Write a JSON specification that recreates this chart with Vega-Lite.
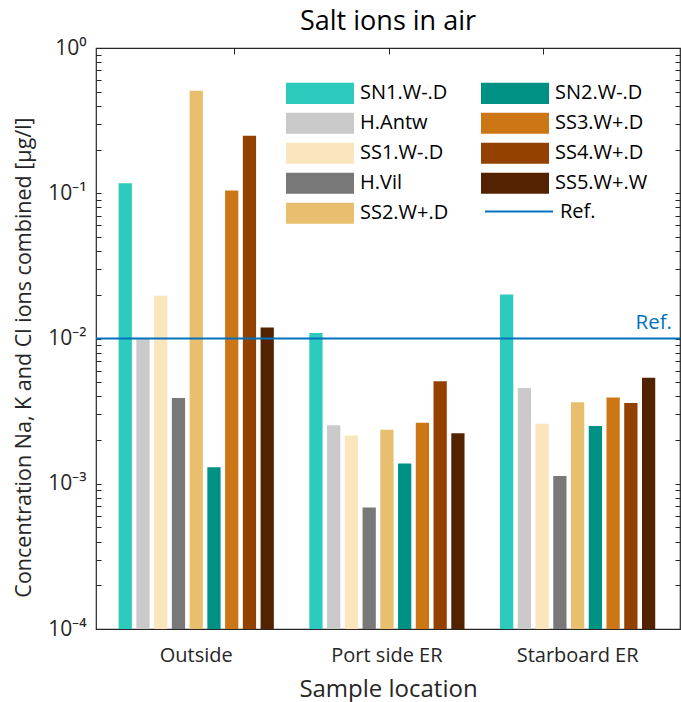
{
  "$schema": "https://vega.github.io/schema/vega-lite/v6.json",
  "width": 584,
  "height": 581,
  "autosize": {"type": "none"},
  "padding": {"left": 96, "top": 48, "right": 1, "bottom": 73},
  "background": "white",
  "title": {
    "text": "Salt ions in air",
    "font": "Open Sans",
    "fontSize": 27,
    "fontWeight": "normal",
    "color": "#000000",
    "anchor": "middle",
    "baseline": "alphabetic",
    "offset": 13,
    "dy": 33
  },
  "config": {
    "font": "Open Sans",
    "view": {"stroke": "#262626", "strokeWidth": 1.2},
    "axis": {
      "domain": false,
      "grid": false,
      "tickColor": "#262626",
      "tickWidth": 1,
      "labelColor": "#262626",
      "titleColor": "#262626",
      "labelFont": "Open Sans",
      "titleFont": "Open Sans",
      "titleFontWeight": "normal"
    },
    "legend": {
      "labelFont": "Open Sans",
      "labelColor": "#000000"
    }
  },
  "datasets": {
    "samples": [
      {"location": "Outside", "sample": "SN1.W-.D", "value": 0.117},
      {"location": "Outside", "sample": "H.Antw", "value": 0.0100},
      {"location": "Outside", "sample": "SS1.W-.D", "value": 0.0197},
      {"location": "Outside", "sample": "H.Vil", "value": 0.0039},
      {"location": "Outside", "sample": "SS2.W+.D", "value": 0.507},
      {"location": "Outside", "sample": "SN2.W-.D", "value": 0.0013},
      {"location": "Outside", "sample": "SS3.W+.D", "value": 0.1045},
      {"location": "Outside", "sample": "SS4.W+.D", "value": 0.249},
      {"location": "Outside", "sample": "SS5.W+.W", "value": 0.0119},
      {"location": "Port side ER", "sample": "SN1.W-.D", "value": 0.0109},
      {"location": "Port side ER", "sample": "H.Antw", "value": 0.00253},
      {"location": "Port side ER", "sample": "SS1.W-.D", "value": 0.00215},
      {"location": "Port side ER", "sample": "H.Vil", "value": 0.000686},
      {"location": "Port side ER", "sample": "SS2.W+.D", "value": 0.00235},
      {"location": "Port side ER", "sample": "SN2.W-.D", "value": 0.00138},
      {"location": "Port side ER", "sample": "SS3.W+.D", "value": 0.00263},
      {"location": "Port side ER", "sample": "SS4.W+.D", "value": 0.00508},
      {"location": "Port side ER", "sample": "SS5.W+.W", "value": 0.00223},
      {"location": "Starboard ER", "sample": "SN1.W-.D", "value": 0.0201},
      {"location": "Starboard ER", "sample": "H.Antw", "value": 0.00457},
      {"location": "Starboard ER", "sample": "SS1.W-.D", "value": 0.00259},
      {"location": "Starboard ER", "sample": "H.Vil", "value": 0.00113},
      {"location": "Starboard ER", "sample": "SS2.W+.D", "value": 0.00364},
      {"location": "Starboard ER", "sample": "SN2.W-.D", "value": 0.0025},
      {"location": "Starboard ER", "sample": "SS3.W+.D", "value": 0.00393},
      {"location": "Starboard ER", "sample": "SS4.W+.D", "value": 0.00359},
      {"location": "Starboard ER", "sample": "SS5.W+.W", "value": 0.00536}
    ],
    "reference": [
      {"name": "Ref.", "level": 0.01}
    ]
  },
  "resolve": {
    "scale": {"x": "independent", "y": "shared"},
    "axis": {"x": "independent", "y": "independent"}
  },
  "layer": [
    {
      "data": {"name": "samples"},
      "mark": {"type": "bar", "stroke": null},
      "encoding": {
        "x": {
          "field": "location",
          "type": "nominal",
          "sort": ["Outside", "Port side ER", "Starboard ER"],
          "scale": {"paddingInner": 0, "paddingOuter": 0.0312, "align": 0.41},
          "axis": {
            "orient": "bottom",
            "ticks": false,
            "labelAngle": 0,
            "labelFontSize": 20,
            "labelPadding": 16,
            "title": "Sample location",
            "titleFontSize": 24,
            "titlePadding": 12
          }
        },
        "xOffset": {
          "field": "sample",
          "type": "nominal",
          "sort": ["SN1.W-.D", "H.Antw", "SS1.W-.D", "H.Vil", "SS2.W+.D", "SN2.W-.D", "SS3.W+.D", "SS4.W+.D", "SS5.W+.W"],
          "scale": {"paddingInner": 0.253, "paddingOuter": 1.235}
        },
        "y": {
          "field": "value",
          "type": "quantitative",
          "scale": {"type": "log", "domain": [0.0001, 1], "nice": false},
          "axis": {
            "orient": "left",
            "values": [0.0001, 0.0002, 0.0003, 0.0004, 0.0005, 0.0006, 0.0007, 0.0008, 0.0009,
                       0.001, 0.002, 0.003, 0.004, 0.005, 0.006, 0.007, 0.008, 0.009,
                       0.01, 0.02, 0.03, 0.04, 0.05, 0.06, 0.07, 0.08, 0.09,
                       0.1, 0.2, 0.3, 0.4, 0.5, 0.6, 0.7, 0.8, 0.9, 1],
            "labelExpr": "datum.value == 1 ? '10⁰' : datum.value == 0.1 ? '10⁻¹' : datum.value == 0.01 ? '10⁻²' : datum.value == 0.001 ? '10⁻³' : datum.value == 0.0001 ? '10⁻⁴' : ''",
            "labelFontSize": 21,
            "labelPadding": 15,
            "labelOverlap": false,
            "tickSize": -5,
            "title": "Concentration Na, K and Cl ions combined [µg/l]",
            "titleFontSize": 21.5,
            "titlePadding": 12,
            "titleY": 309
          }
        },
        "y2": {"datum": 0.0001},
        "color": {
          "field": "sample",
          "type": "nominal",
          "scale": {
            "domain": ["SN1.W-.D", "H.Antw", "SS1.W-.D", "H.Vil", "SS2.W+.D", "SN2.W-.D", "SS3.W+.D", "SS4.W+.D", "SS5.W+.W"],
            "range": ["#2CCBBE", "#CACACA", "#FBE5BD", "#787878", "#E8BE6F", "#009185", "#CD7616", "#944100", "#532200"]
          },
          "legend": {
            "title": null,
            "orient": "none",
            "legendX": 190,
            "legendY": 30.4,
            "columns": 2,
            "padding": 0,
            "symbolType": "M-1,-0.31H1V0.31H-1Z",
            "symbolSize": 4624,
            "symbolStrokeWidth": 0,
            "symbolOpacity": 1,
            "clipHeight": 29.6,
            "rowPadding": 0,
            "columnPadding": 32,
            "labelFontSize": 20,
            "labelOffset": 6,
            "labelLimit": 200
          }
        }
      }
    },
    {
      "data": {"name": "reference"},
      "mark": {"type": "point", "opacity": 0},
      "encoding": {
        "x": {
          "datum": 0.5,
          "type": "quantitative",
          "scale": {"domain": [0, 1], "nice": false, "zero": false},
          "axis": {
            "orient": "top",
            "values": [0.236, 0.501, 0.766],
            "labels": false,
            "tickSize": -6,
            "minExtent": 0,
            "maxExtent": 0,
            "title": null
          }
        },
        "y": {
          "field": "level",
          "type": "quantitative",
          "axis": {
            "orient": "right",
            "values": [0.0001, 0.0002, 0.0003, 0.0004, 0.0005, 0.0006, 0.0007, 0.0008, 0.0009,
                       0.001, 0.002, 0.003, 0.004, 0.005, 0.006, 0.007, 0.008, 0.009,
                       0.01, 0.02, 0.03, 0.04, 0.05, 0.06, 0.07, 0.08, 0.09,
                       0.1, 0.2, 0.3, 0.4, 0.5, 0.6, 0.7, 0.8, 0.9, 1],
            "labels": false,
            "tickSize": -5,
            "minExtent": 0,
            "maxExtent": 0,
            "title": null
          }
        }
      }
    },
    {
      "data": {"name": "reference"},
      "mark": {"type": "rule", "strokeWidth": 2},
      "encoding": {
        "y": {"field": "level", "type": "quantitative", "axis": null},
        "stroke": {
          "field": "name",
          "type": "nominal",
          "scale": {"domain": ["Ref."], "range": ["#0072BD"]},
          "legend": {
            "title": null,
            "orient": "none",
            "legendX": 388,
            "legendY": 148.8,
            "padding": 0,
            "symbolType": "stroke",
            "symbolSize": 4624,
            "symbolStrokeWidth": 2,
            "symbolOpacity": 1,
            "clipHeight": 29.6,
            "labelFontSize": 20,
            "labelOffset": 6,
            "labelLimit": 200
          }
        }
      }
    },
    {
      "data": {"name": "reference"},
      "mark": {
        "type": "text",
        "fill": "#0072BD",
        "font": "Open Sans",
        "fontSize": 20.5,
        "fontWeight": "normal",
        "align": "right",
        "baseline": "alphabetic",
        "dx": -8,
        "dy": -10
      },
      "encoding": {
        "text": {"field": "name"},
        "x": {"value": "width"},
        "y": {"field": "level", "type": "quantitative", "axis": null}
      }
    }
  ]
}
